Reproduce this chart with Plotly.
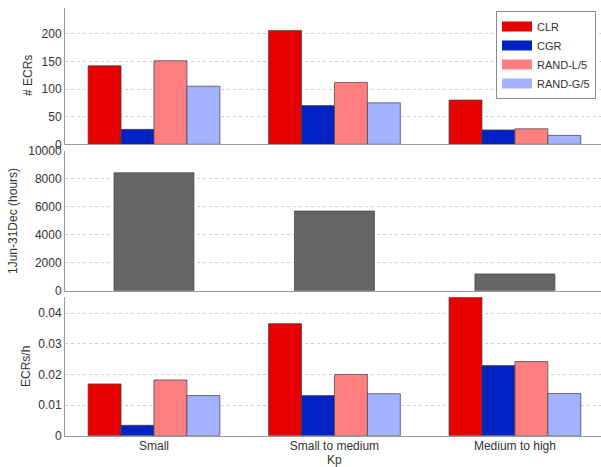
import plotly.graph_objects as go

# Kp activity classes
categories = ["Small", "Small to medium", "Medium to high"]

# Number of ECRs per class
ecr_clr = [142, 206, 80]
ecr_cgr = [27, 70, 26]
ecr_rand_l = [151, 112, 28]
ecr_rand_g = [105, 75, 16]

# Hours spent in each class, 1 Jun - 31 Dec
hours = [8440, 5700, 1200]

# ECR rate per hour
rate_clr = [0.0169, 0.0366, 0.0453]
rate_cgr = [0.0034, 0.0131, 0.0229]
rate_rand_l = [0.0182, 0.0200, 0.0242]
rate_rand_g = [0.0131, 0.0137, 0.0138]

series_names = ["CLR", "CGR", "RAND-L/5", "RAND-G/5"]
series_colors = ["#e60000", "#0022c4", "#ff7f80", "#a3b1ff"]

W, H = 601, 467
FONT = "Liberation Sans, Arial, Helvetica, sans-serif"
TXT = "#333333"
AXIS = "#9a9a9a"
GRID = "#cfcfcf"
outline = dict(color="rgba(70,70,70,0.75)", width=1)

fig = go.Figure()

counts = [ecr_clr, ecr_cgr, ecr_rand_l, ecr_rand_g]
rates = [rate_clr, rate_cgr, rate_rand_l, rate_rand_g]

for name, col, vals in zip(series_names, series_colors, counts):
    fig.add_trace(go.Bar(x=categories, y=vals, name=name, showlegend=False,
                         marker=dict(color=col, line=outline),
                         xaxis="x", yaxis="y"))

fig.add_trace(go.Bar(x=categories, y=hours, width=0.443, showlegend=False,
                     marker=dict(color="#666666", line=outline),
                     xaxis="x2", yaxis="y2"))

for name, col, vals in zip(series_names, series_colors, rates):
    fig.add_trace(go.Bar(x=categories, y=vals, name=name, showlegend=False,
                         marker=dict(color=col, line=outline),
                         xaxis="x3", yaxis="y3"))

# wide legend swatches
for name, col in zip(series_names, series_colors):
    fig.add_trace(go.Scatter(x=[None], y=[None], mode="lines", name=name,
                             line=dict(color=col, width=11),
                             xaxis="x", yaxis="y"))


def ydom(top_px, bottom_px):
    return [1 - bottom_px / H, 1 - top_px / H]


x_left = 65 / W
xrange_ = [-0.493, 2.477]

xcommon = dict(type="category", categoryorder="array", categoryarray=categories,
               range=xrange_, domain=[x_left, 1], showline=True, linecolor=AXIS,
               linewidth=1, showgrid=False, ticks="", automargin=False,
               tickfont=dict(family=FONT, size=12, color=TXT))
ycommon = dict(showline=True, linecolor=AXIS, linewidth=1, showgrid=True,
               gridcolor=GRID, griddash="dot", gridwidth=1, zeroline=False,
               ticks="", automargin=False,
               tickfont=dict(family=FONT, size=12, color=TXT))

fig.update_layout(
    width=W, height=H,
    margin=dict(l=0, r=0, t=0, b=0),
    paper_bgcolor="white", plot_bgcolor="white",
    barmode="group", bargap=0.27, bargroupgap=0,
    font=dict(family=FONT, color=TXT),
    xaxis=dict(xcommon, anchor="y", showticklabels=False),
    xaxis2=dict(xcommon, anchor="y2", showticklabels=False),
    xaxis3=dict(xcommon, anchor="y3", showticklabels=True,
                ticklabelstandoff=-1),
    yaxis=dict(ycommon, anchor="x", domain=ydom(8.3, 144.3), range=[0, 246],
               dtick=50),
    yaxis2=dict(ycommon, anchor="x2", domain=ydom(151, 290.7), range=[0, 10000],
                dtick=2000, tickformat="d"),
    yaxis3=dict(ycommon, anchor="x3", domain=ydom(297.3, 435.7),
                range=[0, 0.0452], dtick=0.01),
    legend=dict(x=596 / W, y=1 - 11 / H, xanchor="right", yanchor="top",
                bgcolor="white", bordercolor="#8c8c8c", borderwidth=1,
                font=dict(family=FONT, size=11, color=TXT),
                tracegroupgap=0),
    annotations=[
        dict(text="# ECRs", x=28 / W, y=1 - 76 / H, xref="paper", yref="paper",
             textangle=-90, showarrow=False, xanchor="center", yanchor="middle",
             font=dict(family=FONT, size=12, color=TXT)),
        dict(text="1Jun-31Dec (hours)", x=13 / W, y=1 - 221 / H, xref="paper",
             yref="paper", textangle=-90, showarrow=False, xanchor="center",
             yanchor="middle", font=dict(family=FONT, size=12, color=TXT)),
        dict(text="ECRs/h", x=26 / W, y=1 - 367 / H, xref="paper", yref="paper",
             textangle=-90, showarrow=False, xanchor="center", yanchor="middle",
             font=dict(family=FONT, size=12, color=TXT)),
        dict(text="Kp", x=335 / W, y=0, xref="paper", yref="paper",
             showarrow=False, xanchor="center", yanchor="bottom",
             borderpad=0, yshift=-1,
             font=dict(family=FONT, size=12, color=TXT)),
    ],
)

fig.write_html("out.html")
